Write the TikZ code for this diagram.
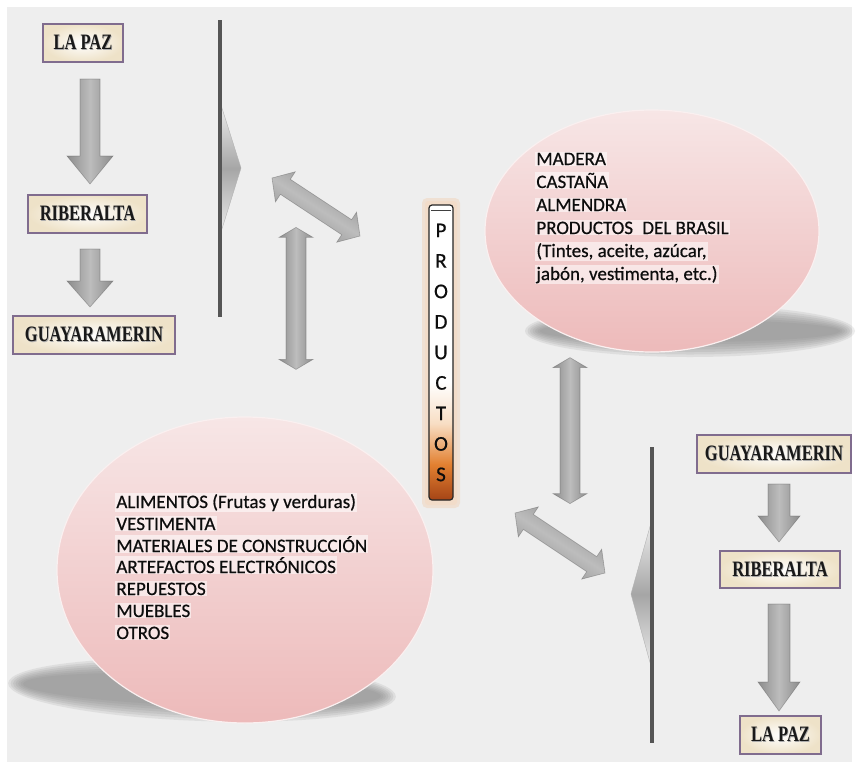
\documentclass[tikz,border=0pt]{standalone}
\usepackage{fontspec}
\setmainfont{Liberation Serif}
\newfontfamily\calib[FakeBold=0.6]{Carlito}
\usetikzlibrary{calc,shapes.geometric}

\definecolor{bg}{RGB}{238,238,238}
\definecolor{boxrim}{RGB}{128,108,142}
\definecolor{boxglow}{RGB}{238,226,200}
\definecolor{pinktop}{RGB}{247,230,230}
\definecolor{pinkbot}{RGB}{237,186,186}
\definecolor{pinkrim}{RGB}{250,240,240}
\definecolor{linegray}{RGB}{85,85,85}
\definecolor{prodbrown}{RGB}{165,68,22}
\definecolor{prodorange}{RGB}{226,128,48}
\definecolor{prodlight}{RGB}{248,222,196}
\definecolor{shadowgray}{RGB}{128,128,128}

% vertical shading of the PRODUCTOS bar (listed from bottom to top)
\pgfdeclareverticalshading{prodshade}{100bp}{color(0bp)=(prodbrown); color(25bp)=(prodbrown); color(31bp)=(prodorange); color(38bp)=(prodlight); color(45bp)=(white); color(100bp)=(white)}

% lettering of the place boxes: condensed bold serif with a soft shadow
\newcommand\placetxt[1]{\scalebox{0.75}[1]{\rlap{\textcolor{gray!65}{\hspace*{1pt}\raisebox{-1pt}{#1}}}#1}}

% block arrow from #2 to tip #3: shaft half width #4, head half width #5, head length #6
\newcommand\fatarrow[6][]{%
  \coordinate (fa-n) at ($(#3)!#6!(#2)$);
  \path[arrowfill,#1] ($(#2)!#4!90:(#3)$) -- ($(fa-n)!#4!-90:(#2)$) -- ($(fa-n)!#5!-90:(#2)$)
    -- (#3) -- ($(fa-n)!#5!90:(#2)$) -- ($(fa-n)!#4!90:(#2)$) -- ($(#2)!#4!-90:(#3)$) -- cycle;}

% block arrow with heads at both tips #2 and #3
\newcommand\dblarrow[6][]{%
  \coordinate (da-a) at ($(#2)!#6!(#3)$);
  \coordinate (da-b) at ($(#3)!#6!(#2)$);
  \path[arrowfill,#1] (#2) -- ($(da-a)!#5!90:(#3)$) -- ($(da-a)!#4!90:(#3)$)
    -- ($(da-b)!#4!-90:(#2)$) -- ($(da-b)!#5!-90:(#2)$) -- (#3)
    -- ($(da-b)!#5!90:(#2)$) -- ($(da-b)!#4!90:(#2)$)
    -- ($(da-a)!#4!-90:(#3)$) -- ($(da-a)!#5!-90:(#3)$) -- cycle;}

\begin{document}
\begin{tikzpicture}[x=1pt,y=-1pt,
  placebox/.style={draw=boxrim, line width=2pt, shading=radial, inner color=white,
    outer color=boxglow, minimum height=38pt, inner sep=0pt, text=black!90,
    font=\bfseries\fontsize{22}{22}\selectfont},
  bubble/.style={ellipse, draw=pinkrim, line width=1.2pt, top color=pinktop, bottom color=pinkbot},
  item/.style={anchor=base west, inner sep=1.2pt, fill=white, fill opacity=0.55, text opacity=1,
    text=black!95, font=\calib\fontsize{19}{22}\selectfont},
  arrowfill/.style={left color=gray!90, right color=gray!90, middle color=gray!52,
    draw=gray!75!black, draw opacity=0.45, line width=0.6pt},
  vbar/.style={draw=linegray, line width=4pt},
  wedge/.style={top color=gray!15, bottom color=gray!15, middle color=gray!70,
    draw=gray!60, line width=0.4pt},
  prodbar/.style={draw=black!85, line width=1.2pt, shading=prodshade, rounded corners=3pt,
    minimum width=24pt, minimum height=295pt, inner sep=0pt, align=center, text=black!95,
    font=\calib\fontsize{21}{30.5}\selectfont}]

\useasboundingbox (0,0) rectangle (857,769);
\fill[white] (0,0) rectangle (857,769);
\fill[bg] (7,7) rectangle (852,762);

% soft ground shadows under the two bubbles
\foreach \k in {0,...,6}
  \fill[shadowgray, opacity=0.14] (690,331) ellipse ({165-2.5*\k} and {26-2.5*\k});
\begin{scope}[rotate around={-2:(202,690)}]
\foreach \k in {0,...,6}
  \fill[shadowgray, opacity=0.14] (202,690) ellipse ({194-2.5*\k} and {31-2.5*\k});
\end{scope}

% bubbles
\node[bubble, minimum width=334pt, minimum height=242pt] (brasil) at (652,231) {};
\node[bubble, minimum width=376pt, minimum height=306pt] (bolivia) at (245,570) {};

% products coming from Brazil
\node[item] (m1) at (535,165) {MADERA};
\node[item] (m2) at (535,188) {CASTAÑA};
\node[item] (m3) at (535,211) {ALMENDRA};
\node[item] (m4) at (535,234) {PRODUCTOS\hspace{5pt} DEL BRASIL};
\node[item] (m5) at (535,257) {(Tintes, aceite, azúcar,};
\node[item] (m6) at (535,280) {jabón, vestimenta, etc.)};

% products going to Brazil
\node[item] (p1) at (115,508) {ALIMENTOS (Frutas y verduras)};
\node[item] (p2) at (115,530) {VESTIMENTA};
\node[item] (p3) at (115,552) {MATERIALES DE CONSTRUCCIÓN};
\node[item] (p4) at (115,573) {ARTEFACTOS ELECTRÓNICOS};
\node[item] (p5) at (115,595) {REPUESTOS};
\node[item] (p6) at (115,617) {MUEBLES};
\node[item] (p7) at (115,639) {OTROS};

% central PRODUCTOS bar with its warm glow
\fill[prodorange!45, opacity=0.35, rounded corners=5pt] (422,198) rectangle (460,508);
\fill[prodorange!30, opacity=0.5, rounded corners=3pt] (425,201) rectangle (457,505);
\node[prodbar] (prod) at (441,352.5) {P\\R\\O\\D\\U\\C\\T\\O\\S};
\draw[black!75, line width=0.8pt] ($(prod.north west)+(3,6)$) -- ($(prod.north east)+(-3,6)$);

% route La Paz -> Riberalta -> Guayaramerin
\node[placebox, minimum width=80pt] (lp1) at (83,43) {\placetxt{LA PAZ}};
\node[placebox, minimum width=119pt] (rb1) at (87.5,214) {\placetxt{RIBERALTA}};
\node[placebox, minimum width=162pt] (gy1) at (94,335) {\placetxt{GUAYARAMERIN}};
\coordinate (a1s) at ($(lp1.south)+(7,16)$);
\coordinate (a1e) at ($(rb1.north)+(2.5,-10)$);
\coordinate (a2s) at ($(rb1.south)+(2.5,15)$);
\coordinate (a2e) at ($(gy1.north)+(-4,-8)$);
\fatarrow{a1s}{a1e}{10pt}{23pt}{28pt}
\fatarrow{a2s}{a2e}{10pt}{23pt}{26pt}

% route Guayaramerin -> Riberalta -> La Paz
\node[placebox, minimum width=154pt] (gy2) at (774,454) {\placetxt{GUAYARAMERIN}};
\node[placebox, minimum width=120pt, minimum height=37pt] (rb2) at (780,569.5) {\placetxt{RIBERALTA}};
\node[placebox, minimum width=81pt] (lp2) at (780.5,735) {\placetxt{LA PAZ}};
\coordinate (b1s) at ($(gy2.south)+(5,10)$);
\coordinate (b1e) at ($(rb2.north)+(-1,-8)$);
\coordinate (b2s) at ($(rb2.south)+(-1,15)$);
\coordinate (b2e) at ($(lp2.north)+(-1.5,-4)$);
\fatarrow{b1s}{b1e}{11pt}{21pt}{26pt}
\fatarrow{b2s}{b2e}{11pt}{21pt}{29pt}

% left divider with its wedge
\coordinate (vl1a) at (220,20);
\coordinate (vl1b) at (220,317);
\path[wedge] (221,105) -- (241,168) -- (221,232) -- cycle;
\draw[vbar] (vl1a) -- (vl1b);

% right divider with its wedge
\coordinate (vl2a) at (652,447);
\coordinate (vl2b) at (652,743);
\path[wedge] (651,523) -- (631,594) -- (651,666) -- cycle;
\draw[vbar] (vl2a) -- (vl2b);

% exchange arrows around the PRODUCTOS bar
\coordinate (x1a) at (272,178);
\coordinate (x1b) at (360,236);
\dblarrow[shading angle=-33]{x1a}{x1b}{9pt}{18pt}{16pt}
\coordinate (x2a) at ($(bolivia.north)+(51,-189)$);
\coordinate (x2b) at ($(bolivia.north)+(51,-47)$);
\dblarrow{x2a}{x2b}{10pt}{17pt}{10pt}
\coordinate (x3a) at ($(brasil.south)+(-82,5)$);
\coordinate (x3b) at ($(brasil.south)+(-82,151)$);
\dblarrow{x3a}{x3b}{10pt}{17pt}{10pt}
\coordinate (x4a) at (515,513);
\coordinate (x4b) at (605,573);
\dblarrow[shading angle=-33]{x4a}{x4b}{9pt}{18pt}{16pt}

\end{tikzpicture}
\end{document}
